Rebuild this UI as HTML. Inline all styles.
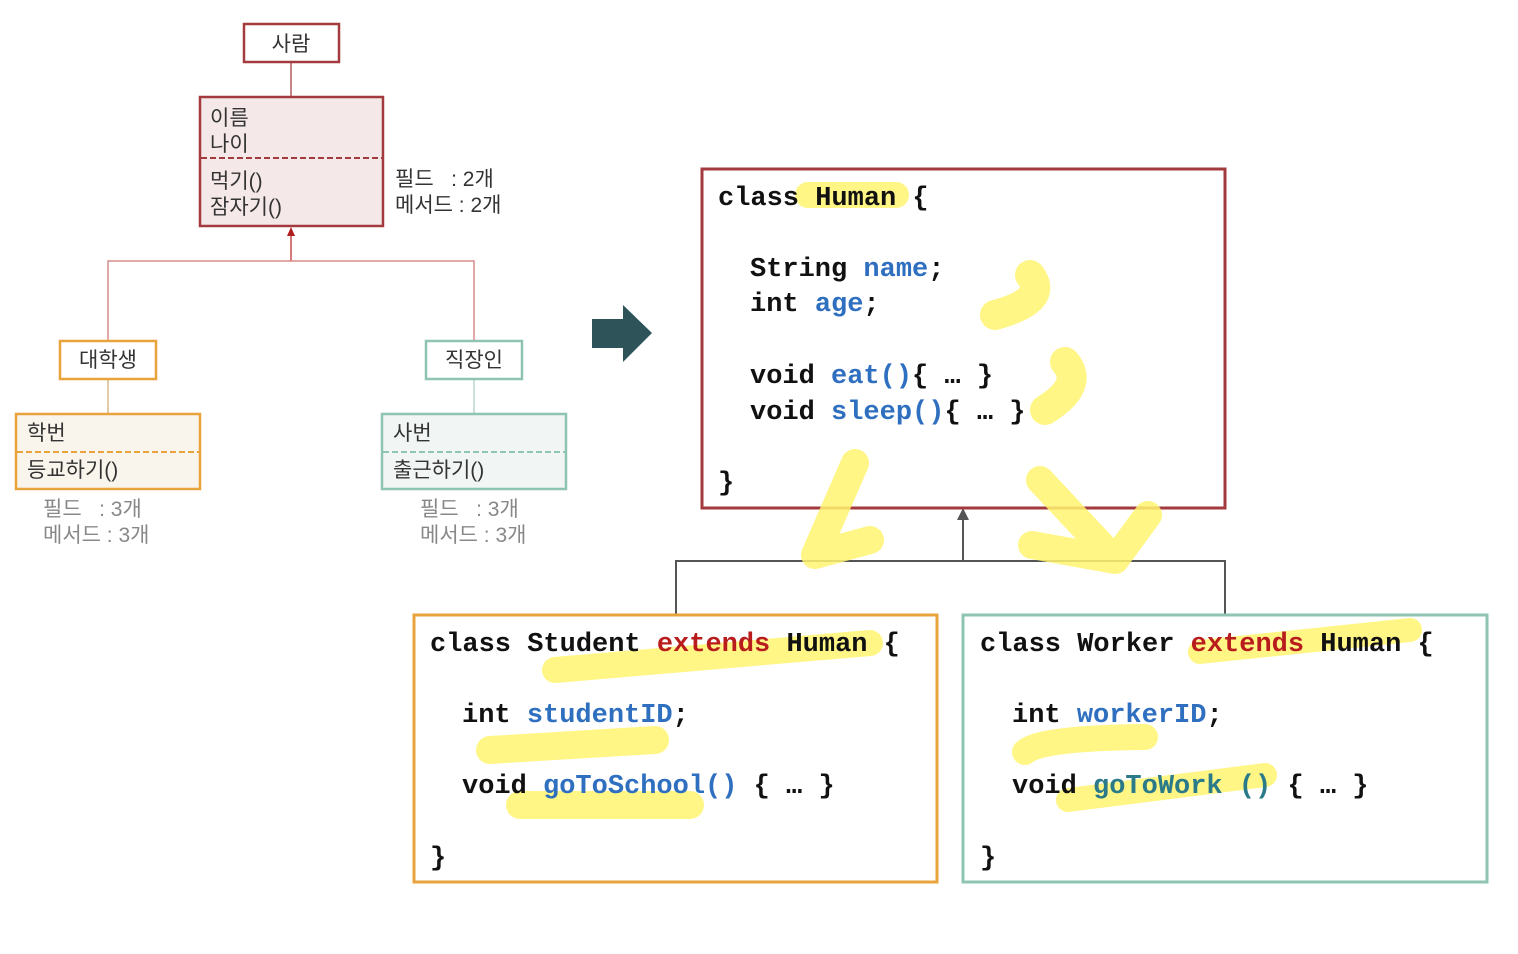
<!DOCTYPE html>
<html><head><meta charset="utf-8"><style>
html,body{margin:0;padding:0;background:#fff;}
svg{display:block;}
.k{font-family:"Liberation Sans","Noto Sans CJK KR",sans-serif;font-size:21px;fill:#333;}
.g{font-family:"Liberation Sans","Noto Sans CJK KR",sans-serif;font-size:21px;fill:#888;}
.c{font-family:"Liberation Mono",monospace;font-size:27px;font-weight:bold;fill:#111;}
.b{fill:#2e6fbf;}.r{fill:#b81c1c;}.t{fill:#2a7a8a;}
.h{fill:none;stroke:#fff570;stroke-opacity:.85;stroke-linecap:round;stroke-linejoin:round;}
</style></head><body>
<svg width="1518" height="954" viewBox="0 0 1518 954" xmlns="http://www.w3.org/2000/svg">
<!-- left UML -->
<line x1="291" y1="62" x2="291" y2="97" stroke="#b05a5e" stroke-width="1.5"/>
<rect x="244" y="24" width="95" height="38" fill="#fff" stroke="#a23a3e" stroke-width="2.5"/>
<text class="k" x="291" y="51" text-anchor="middle">사람</text>
<rect x="200" y="97" width="183" height="129" fill="#f5e8e9" stroke="#a23a3e" stroke-width="2.5"/>
<line x1="201" y1="158" x2="382" y2="158" stroke="#a23a3e" stroke-width="2" stroke-dasharray="6,3"/>
<text class="k" x="210" y="125">이름</text>
<text class="k" x="210" y="151">나이</text>
<text class="k" x="210" y="188">먹기()</text>
<text class="k" x="210" y="214">잠자기()</text>
<text class="k" x="395" y="186" fill="#444">필드 &#160;&#160;: 2개</text>
<text class="k" x="395" y="212" fill="#444">메서드 : 2개</text>
<polygon points="291,227 287,236 295,236" fill="#b01e1e"/>
<polyline points="291,236 291,261" fill="none" stroke="#c84a4a" stroke-width="1.5"/>
<polyline points="108,341 108,261 474,261 474,341" fill="none" stroke="#d88a8a" stroke-width="1.5"/>
<line x1="108" y1="379" x2="108" y2="414" stroke="#d8b88a" stroke-width="1.5"/>
<line x1="474" y1="379" x2="474" y2="414" stroke="#b8d8cc" stroke-width="1.5"/>
<rect x="60" y="341" width="96" height="38" fill="#fff" stroke="#e8a33d" stroke-width="2.5"/>
<text class="k" x="108" y="367" text-anchor="middle">대학생</text>
<rect x="16" y="414" width="184" height="75" fill="#faf5ec" stroke="#e8a33d" stroke-width="2.5"/>
<line x1="17" y1="452" x2="199" y2="452" stroke="#e8a33d" stroke-width="2" stroke-dasharray="6,3"/>
<text class="k" x="27" y="440">학번</text>
<text class="k" x="27" y="477">등교하기()</text>
<text class="g" x="43" y="516">필드 &#160;&#160;: 3개</text>
<text class="g" x="43" y="542">메서드 : 3개</text>
<rect x="426" y="341" width="96" height="38" fill="#fff" stroke="#8fc4b0" stroke-width="2.5"/>
<text class="k" x="474" y="367" text-anchor="middle">직장인</text>
<rect x="382" y="414" width="184" height="75" fill="#f1f5f3" stroke="#8fc4b0" stroke-width="2.5"/>
<line x1="383" y1="452" x2="565" y2="452" stroke="#8fc4b0" stroke-width="2" stroke-dasharray="6,3"/>
<text class="k" x="393" y="440">사번</text>
<text class="k" x="393" y="477">출근하기()</text>
<text class="g" x="420" y="516">필드 &#160;&#160;: 3개</text>
<text class="g" x="420" y="542">메서드 : 3개</text>
<!-- big arrow -->
<polygon points="592,319 623,319 623,305 652,333 623,362 623,348 592,348" fill="#2e545a"/>
<!-- connectors -->
<polyline points="676,615 676,561 1225,561 1225,615" fill="none" stroke="#555" stroke-width="2"/>
<line x1="963" y1="561" x2="963" y2="518" stroke="#555" stroke-width="2"/>
<polygon points="963,508 957,520 969,520" fill="#555"/>
<!-- boxes -->
<rect x="702" y="169" width="523" height="339" fill="none" stroke="#a23a3e" stroke-width="3"/>
<rect x="414" y="615" width="523" height="267" fill="none" stroke="#e8a33d" stroke-width="3"/>
<rect x="963" y="615" width="524" height="267" fill="none" stroke="#8fc4b0" stroke-width="3"/>
<!-- highlights -->
<path class="h" d="M808,195 L896,195" stroke-width="26"/>
<path class="h" d="M1030,275 Q1050,300 995,315" stroke-width="30"/>
<path class="h" d="M1065,362 Q1085,385 1045,410" stroke-width="30"/>
<path class="h" d="M855,463 L815,555 L870,540" stroke-width="28"/>
<path class="h" d="M1040,480 L1115,560 L1148,515 M1032,545 L1115,560" stroke-width="28"/>
<path class="h" d="M555,670 L870,643" stroke-width="26"/>
<path class="h" d="M490,750 L655,740" stroke-width="28"/>
<path class="h" d="M520,805 L690,805" stroke-width="28"/>
<path class="h" d="M1200,652 L1410,630" stroke-width="24"/>
<path class="h" d="M1025,752 Q1040,738 1145,737" stroke-width="26"/>
<path class="h" d="M1068,800 L1265,775" stroke-width="24"/>
<!-- Human code -->
<text class="c" x="718" y="205">class Human {</text>
<text class="c" x="750" y="276">String <tspan class="b">name</tspan>;</text>
<text class="c" x="750" y="311">int <tspan class="b">age</tspan>;</text>
<text class="c" x="750" y="383">void <tspan class="b">eat()</tspan>{ … }</text>
<text class="c" x="750" y="419">void <tspan class="b">sleep()</tspan>{ … }</text>
<text class="c" x="718" y="490">}</text>
<!-- Student -->
<text class="c" x="430" y="651">class Student <tspan class="r">extends</tspan> Human {</text>
<text class="c" x="462" y="722">int <tspan class="b">studentID</tspan>;</text>
<text class="c" x="462" y="793">void <tspan class="b">goToSchool()</tspan> { … }</text>
<text class="c" x="430" y="865">}</text>
<!-- Worker -->
<text class="c" x="980" y="651">class Worker <tspan class="r">extends</tspan> Human {</text>
<text class="c" x="1012" y="722">int <tspan class="b">workerID</tspan>;</text>
<text class="c" x="1012" y="793">void <tspan class="t">goToWork ()</tspan> { … }</text>
<text class="c" x="980" y="865">}</text>
</svg>
</body></html>
